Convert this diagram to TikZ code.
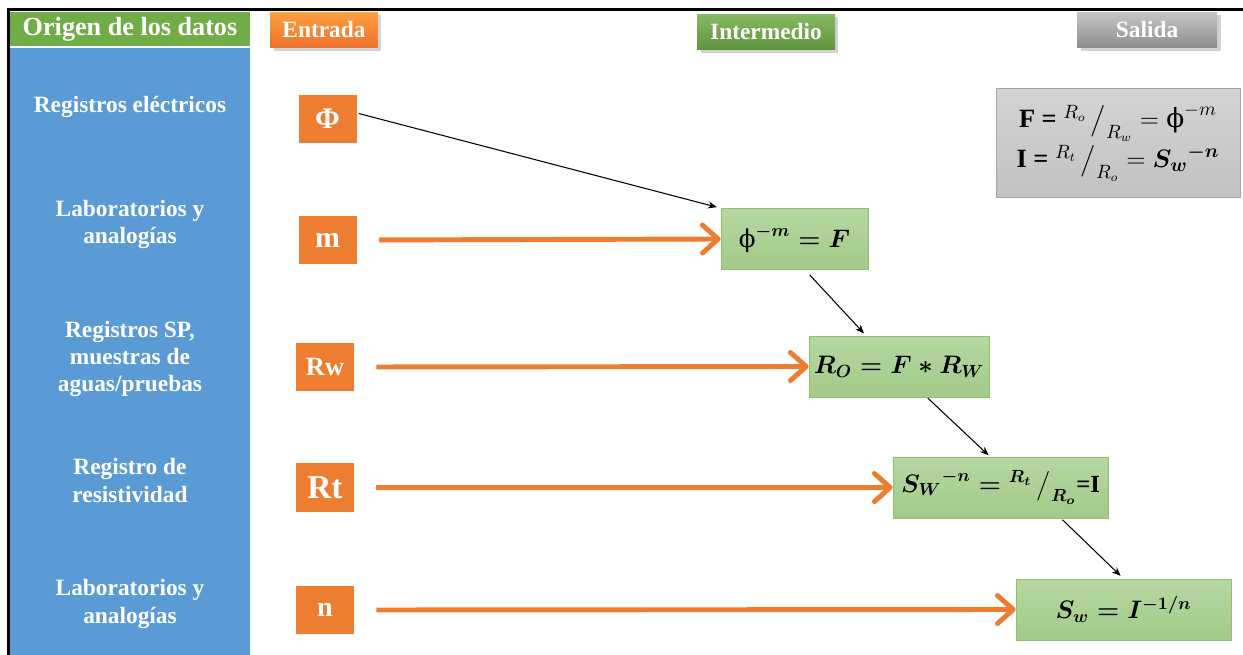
\documentclass[tikz,border=0pt]{standalone}
\usepackage{amsmath,amssymb}
\usepackage{fontspec}
\setmainfont{Liberation Serif}
\newfontfamily\grk{DejaVu Serif}
\newcommand{\upphi}{\text{\normalfont\grk ϕ}}
\usetikzlibrary{arrows.meta,shadows}
\definecolor{colblue}{HTML}{5B9BD5}
\definecolor{colgreen}{HTML}{70AD47}
\definecolor{colorange}{HTML}{ED7D31}
\definecolor{boxtop}{HTML}{B6D7A3}
\definecolor{boxbot}{HTML}{A2CA88}
\definecolor{boxline}{HTML}{8CC168}

\begin{document}
\begin{tikzpicture}[x=0.02cm,y=-0.02cm,
    hdr/.style={rectangle,text=white,inner sep=0pt,minimum height=0.72cm,
      font=\bfseries\fontsize{13.3}{16}\selectfont,
      drop shadow={shadow xshift=0.07cm,shadow yshift=-0.07cm,opacity=0.35}},
    src/.style={text=white,align=center,font=\bfseries\fontsize{13.3}{15.6}\selectfont},
    inp/.style={rectangle,fill=colorange,text=white,inner sep=0pt,
      minimum width=1.16cm,minimum height=0.97cm},
    mid/.style={rectangle,draw=boxline,top color=boxtop,bottom color=boxbot,
      inner sep=0pt,minimum height=1.22cm,font=\fontsize{14}{17}\selectfont\boldmath},
    feed/.style={draw=colorange,line width=2.8pt,shorten <=0.44cm,
      -{Straight Barb[length=9pt,width=16pt,round]}},
    link/.style={draw,line width=0.6pt,-{Stealth[length=5pt,width=4pt]}}]
  \useasboundingbox (0,0) rectangle (1243,655);
  \fill[colblue] (10,48) rectangle (250,655);
  \draw[line width=1.7pt] (8.5,655) -- (8.5,9.5) -- (1243,9.5);
  % origen
  \node[rectangle,fill=colgreen,text=white,inner sep=0pt,minimum width=4.8cm,
    minimum height=0.68cm,font=\bfseries\fontsize{14.9}{17}\selectfont]
    (orig) at (130,29) {Origen de los datos};
  \node[src] (s1) at (130,107) {Registros eléctricos};
  \node[src] (s2) at (130,224.5) {Laboratorios y\\analogías};
  \node[src] (s3) at (130,359) {Registros SP,\\muestras de\\aguas/pruebas};
  \node[src] (s4) at (130,480.5) {Registro de\\resistividad};
  \node[src] (s5) at (130,604) {Laboratorios y\\analogías};
  % cabeceras
  \node[hdr,top color=orange!75!white,bottom color=colorange!90!red,minimum width=2.16cm]
    (ent) at (324,30) {Entrada};
  \node[hdr,top color=colgreen!85!white,bottom color=colgreen!85!black,minimum width=2.76cm]
    (inter) at (766,32) {Intermedio};
  \node[hdr,top color=black!22,bottom color=black!45,minimum width=2.8cm]
    (sal) at (1147,30) {Salida};
  % entrada
  \node[inp,font=\bfseries\fontsize{17}{17}\selectfont] (phi) at (327.5,119) {Φ};
  \node[inp,font=\bfseries\fontsize{17}{17}\selectfont] (m) at (327.5,240) {m};
  \node[inp,font=\bfseries\fontsize{15}{15}\selectfont] (rw) at (325,367) {Rw};
  \node[inp,font=\bfseries\fontsize{19}{19}\selectfont] (rt) at (325,487.5) {Rt};
  \node[inp,font=\bfseries\fontsize{16}{16}\selectfont] (n) at (325,610) {n};
  % intermedio
  \node[mid,minimum width=2.94cm] (fa) at (794.5,239) {$\upphi^{-m} = F$};
  \node[mid,minimum width=3.6cm] (ro) at (899,366.5) {$R_O = F * R_W$};
  \node[mid,minimum width=4.3cm] (sw) at (1000.5,487.5)
    {${S_W}^{-n} = {}^{R_t}\,\big/_{R_o}$\textbf{=I}};
  \node[mid,minimum width=4.3cm] (swf) at (1123.5,609.5) {$S_w = I^{-1/n}$};
  % salida
  \node[rectangle,draw=black!35,top color=black!17,bottom color=black!24,
    minimum width=4.88cm,minimum height=2.18cm,align=center,
    font=\fontsize{15}{22.7}\selectfont] (rel) at (1118,142.5)
    {\textbf{F =} ${}^{R_o}\,\big/_{R_w} = \upphi^{-m}$\\
     \textbf{I =} ${}^{R_t}\,\big/_{R_o} = \boldsymbol{S_w}^{\boldsymbol{-n}}$};
  % flechas
  \draw [feed] (m.east) to (fa.west);
  \draw [feed] (rw.east) to (ro.west);
  \draw [feed] (rt.east) to (sw.west);
  \draw [feed] (n.east) to (swf.west);
  \draw [link,shorten <=0.04cm,shorten >=0.08cm] ([yshift=0.12cm]phi.east) to (fa.north west);
  \draw [link,shorten <=0.14cm,shorten >=0.06cm] ([xshift=0.21cm]fa.south) to ([xshift=-0.66cm]ro.north);
  \draw [link,shorten <=0.02cm,shorten >=0.04cm] ([xshift=0.56cm]ro.south) to ([xshift=-0.21cm]sw.north);
  \draw [link,shorten <=0.04cm,shorten >=0.08cm] ([xshift=1.21cm]sw.south) to (swf.north);
\end{tikzpicture}
\end{document}
